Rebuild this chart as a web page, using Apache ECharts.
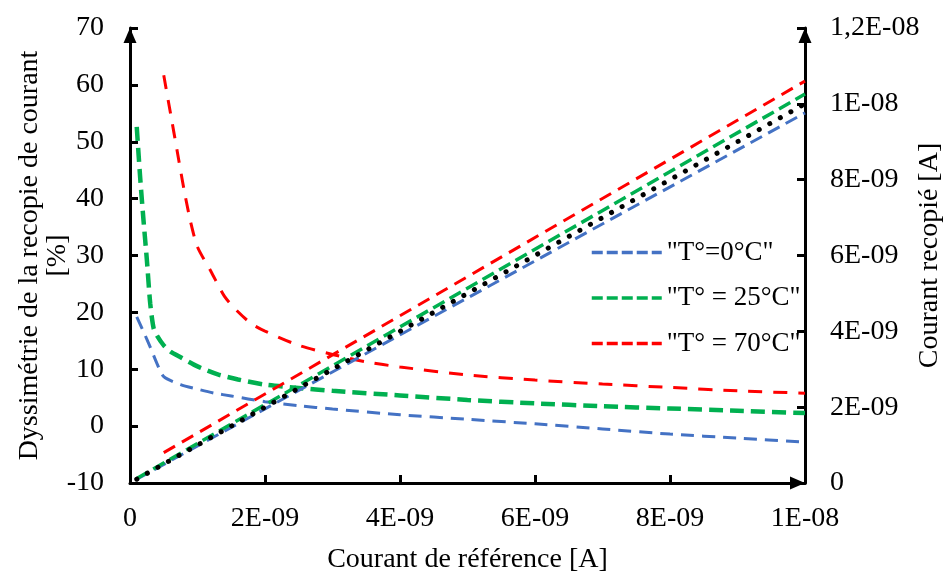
<!DOCTYPE html>
<html>
<head>
<meta charset="utf-8">
<script src="https://cdn.jsdelivr.net/npm/echarts@6/dist/echarts.min.js"></script>
<style>
  html, body { margin: 0; padding: 0; background: #fff; }
  #chart { width: 951px; height: 572px; }
</style>
</head>
<body>
<div id="chart"></div>
<script>
// x values are in units of 1E-09 A (nA); right-axis values too.
const xTickLabels = ['0', '2E-09', '4E-09', '6E-09', '8E-09', '1E-08'];
const rightTickLabels = ['0', '2E-09', '4E-09', '6E-09', '8E-09', '1E-08', '1,2E-08'];
const leftTickLabels = ['-10', '0', '10', '20', '30', '40', '50', '60', '70'];

const legendNames = ['"T°=0°C"', '"T° = 25°C"', '"T° = 70°C"'];

// Dyssymétrie (%), left axis
const xBlueCurve = [0.1, 0.2, 0.3, 0.4, 0.5, 0.75, 1, 1.25, 1.5, 2, 2.5, 3, 4, 5, 6, 7, 8, 9, 10];
const blueCurve  = [19.2, 16.6, 13.9, 11.0, 8.7, 7.3, 6.5, 5.8, 5.3, 4.3, 3.6, 3.0, 2.0, 1.2, 0.4, -0.5, -1.4, -2.1, -2.8];

const xGreenCurve = [0.1, 0.15, 0.2, 0.25, 0.3, 0.35, 0.4, 0.5, 0.6, 0.75, 1, 1.3, 1.6, 2, 2.5, 3, 4, 5, 6, 7, 8, 9, 10];
const greenCurve  = [52.6, 43.8, 36.2, 29.2, 21.5, 17.2, 15.9, 14.2, 13.1, 12.1, 10.5, 9.1, 8.2, 7.3, 6.7, 6.2, 5.4, 4.6, 4.0, 3.5, 3.1, 2.7, 2.3];

const xRedCurve = [0.5, 0.6, 0.7, 0.8, 0.9, 1, 1.2, 1.4, 1.6, 1.8, 2, 2.5, 3, 3.5, 4, 5, 6, 7, 8, 9, 10];
const redCurve  = [61.7, 55.0, 48.3, 41.6, 35.8, 31.5, 27.2, 22.8, 20.1, 18.0, 16.7, 14.2, 12.6, 11.3, 10.4, 9.0, 8.1, 7.4, 6.8, 6.2, 5.8];

// Courant recopié (1E-09 A), right axis
const xBlueLine = [0.1, 10];
const blueLine  = [0.1, 9.76];
const xGreenLine = [0.1, 10];
const greenLine  = [0.12, 10.26];
const xRedLine = [0.5, 10];
const redLine  = [0.8, 10.6];
const xIdealLine = [0.1, 10];
const idealLine  = [0.1, 10.0];

const FONT = "'Liberation Serif', 'Times New Roman', serif";
const BLUE = '#4472C4', GREEN = '#00B050', RED = '#FF0000';

function pairs(xs, ys) { return xs.map((x, i) => [x, ys[i]]); }

const chart = echarts.init(document.getElementById('chart'), null, { renderer: 'canvas' });

function lineSeries(name, xs, ys, color, width, dash, yAxisIndex, smooth, cap) {
  return {
    name: name,
    type: 'line',
    yAxisIndex: yAxisIndex,
    data: pairs(xs, ys),
    symbol: 'none',
    smooth: smooth,
    lineStyle: { color: color, width: width, type: dash, cap: cap || 'butt' },
    itemStyle: { color: color },
    emphasis: { disabled: true },
    silent: true
  };
}

const option = {
  animation: false,
  backgroundColor: '#fff',
  grid: { left: 130, right: 146, top: 28, bottom: 89, containLabel: false, outerBoundsMode: 'none' },
  legend: {
    orient: 'vertical',
    left: 585,
    top: 234,
    itemWidth: 70,
    itemHeight: 14,
    itemGap: 18.5,
    selectedMode: false,
    data: legendNames,
    textStyle: { fontSize: 27, color: '#000', fontFamily: FONT, lineHeight: 27 },
    itemStyle: { opacity: 0 },
    lineStyle: { type: [11, 4], width: 3.5 }
  },
  xAxis: {
    type: 'value', min: 0, max: 10, interval: 2,
    name: 'Courant de référence [A]',
    nameLocation: 'middle', nameGap: 63, nameMoveOverlap: false,
    nameTextStyle: { fontSize: 28, color: '#000', fontFamily: FONT },
    axisLine: { onZero: false, lineStyle: { color: '#000', width: 3 }, symbol: ['none', 'triangle'], symbolSize: [13, 15], symbolOffset: [0, -7.5] },
    axisTick: { inside: true, length: 8, lineStyle: { color: '#000', width: 3 } },
    axisLabel: { margin: 22, fontSize: 28, color: '#000', fontFamily: FONT,
      formatter: v => xTickLabels[Math.round(v / 2)] },
    splitLine: { show: false }
  },
  yAxis: [
    {
      type: 'value', min: -10, max: 70, interval: 10, position: 'left',
      name: 'Dyssimétrie de la recopie de courant\n[%]',
      nameLocation: 'middle', nameGap: 58, nameRotate: 90, nameMoveOverlap: false,
      nameTextStyle: { fontSize: 28, color: '#000', fontFamily: FONT, lineHeight: 28 },
      axisLine: { show: true, onZero: false, lineStyle: { color: '#000', width: 3 }, symbol: ['none', 'triangle'], symbolSize: [13, 15], symbolOffset: [0, -7.5] },
      axisTick: { inside: true, length: 8, lineStyle: { color: '#000', width: 3 } },
      axisLabel: { margin: 26, fontSize: 28, color: '#000', fontFamily: FONT,
        formatter: v => leftTickLabels[Math.round((v + 10) / 10)] },
      splitLine: { show: false }
    },
    {
      type: 'value', min: 0, max: 12, interval: 2, position: 'right',
      name: 'Courant recopié [A]',
      nameLocation: 'middle', nameGap: 111, nameRotate: 90, nameMoveOverlap: false,
      nameTextStyle: { fontSize: 28, color: '#000', fontFamily: FONT },
      axisLine: { show: true, onZero: false, lineStyle: { color: '#000', width: 3 }, symbol: ['none', 'triangle'], symbolSize: [13, 15], symbolOffset: [0, -7.5] },
      axisTick: { inside: true, length: 8, lineStyle: { color: '#000', width: 3 } },
      axisLabel: { margin: 25, fontSize: 28, color: '#000', fontFamily: FONT,
        formatter: v => rightTickLabels[Math.round(v / 2)] },
      splitLine: { show: false }
    }
  ],
  series: [
    lineSeries(legendNames[0], xBlueCurve, blueCurve, BLUE, 3, [13, 8], 0, 0.25),
    lineSeries(legendNames[1], xGreenCurve, greenCurve, GREEN, 4.5, [14, 7], 0, 0.25),
    lineSeries(legendNames[2], xRedCurve, redCurve, RED, 3, [14, 11], 0, 0.25),
    lineSeries('Courant recopié 0°C', xBlueLine, blueLine, BLUE, 3, [13, 7], 1, false),
    lineSeries('Courant recopié 25°C', xGreenLine, greenLine, GREEN, 3.5, [13, 6], 1, false),
    lineSeries('Courant recopié 70°C', xRedLine, redLine, RED, 3, [13, 8], 1, false),
    lineSeries('Idéal', xIdealLine, idealLine, '#000', 5, [0.1, 12], 1, false, 'round')
  ]
};

chart.setOption(option);
</script>
</body>
</html>
